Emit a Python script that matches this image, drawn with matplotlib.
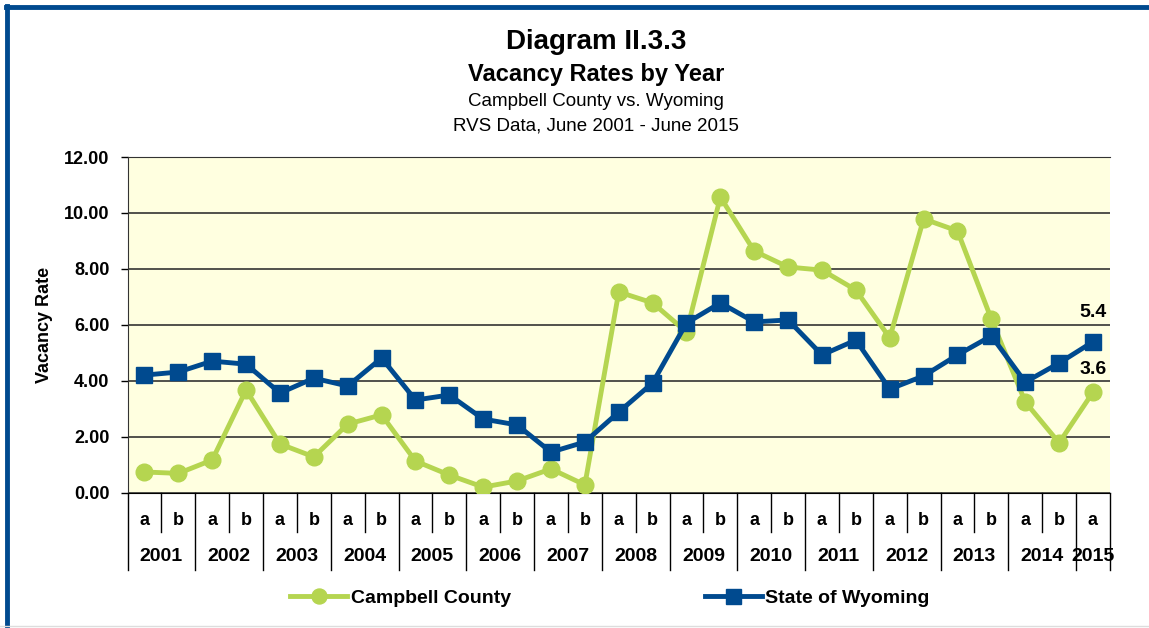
import matplotlib.pyplot as plt
from matplotlib.lines import Line2D
import matplotlib.transforms as mtransforms

years = ['2001', '2002', '2003', '2004', '2005', '2006', '2007',
         '2008', '2009', '2010', '2011', '2012', '2013', '2014', '2015']
halves = ['a', 'b'] * 14 + ['a']

campbell = [0.75, 0.70, 1.18, 3.68, 1.75, 1.29, 2.46, 2.79, 1.14, 0.64,
            0.21, 0.43, 0.86, 0.29, 7.18, 6.79, 5.75, 10.57, 8.64, 8.07,
            7.96, 7.25, 5.54, 9.79, 9.36, 6.21, 3.25, 1.79, 3.6]
wyoming = [4.21, 4.32, 4.71, 4.60, 3.57, 4.10, 3.82, 4.82, 3.32, 3.50,
           2.64, 2.43, 1.46, 1.82, 2.89, 3.93, 6.07, 6.79, 6.11, 6.18,
           4.93, 5.46, 3.71, 4.18, 4.93, 5.61, 3.96, 4.64, 5.4]

green = '#B5D550'
blue = '#004A8F'

plt.rcParams['font.family'] = ['Liberation Sans', 'DejaVu Sans']

fig = plt.figure(figsize=(11.49, 6.28), dpi=100)
ax = fig.add_axes([0.111, 0.215, 0.855, 0.535])
ax.set_facecolor('#FFFFE0')

x = list(range(len(halves)))
ax.plot(x, campbell, color=green, lw=3.5, marker='o', markersize=12, label='Campbell County', zorder=3)
ax.plot(x, wyoming, color=blue, lw=3.5, marker='s', markersize=12, label='State of Wyoming', zorder=4)

ax.set_xlim(-0.5, len(halves) - 0.5)
ax.set_ylim(0, 12)
ax.set_yticks(range(0, 13, 2))
ax.set_yticklabels([f'{v:.2f}' for v in range(0, 13, 2)], fontsize=13, fontweight='bold')
ax.yaxis.grid(True, color='#333333', lw=1.2)
ax.set_axisbelow(True)
ax.set_xticks([])
ax.tick_params(axis='y', length=5, width=1, pad=8)
ax.spines['right'].set_visible(False)
ax.spines['top'].set_color('#333333')
ax.spines['left'].set_color('#333333')
ax.spines['bottom'].set_color('black')
ax.set_ylabel('Vacancy Rate', fontsize=13, fontweight='bold', labelpad=8)

# end labels
ax.text(x[-1], wyoming[-1] + 0.75, f'{wyoming[-1]:.1f}', ha='center', va='bottom',
        fontsize=14, fontweight='bold')
ax.text(x[-1], campbell[-1] + 0.5, f'{campbell[-1]:.1f}', ha='center', va='bottom',
        fontsize=14, fontweight='bold')

# two-level category axis
trans = mtransforms.blended_transform_factory(ax.transData, ax.transAxes)
for i, h in enumerate(halves):
    ax.text(i, -0.083, h, transform=trans, ha='center', va='center',
            fontsize=13, fontweight='bold')
for i in range(len(halves) + 1):
    edge = i - 0.5
    low = -0.229 if (i % 2 == 0 or i == len(halves)) else -0.116
    ax.plot([edge, edge], [0, low], transform=trans, color='black', lw=1, clip_on=False)
for j, yr in enumerate(years):
    pos = 2 * j + 0.5 if yr != '2015' else 2 * j
    ax.text(pos, -0.19, yr, transform=trans, ha='center', va='center',
            fontsize=14, fontweight='bold')

# legend
fig.legend(loc='center', bbox_to_anchor=(0.531, 0.047), ncol=2, frameon=False,
           prop={'weight': 'bold', 'size': 14}, columnspacing=10,
           handlelength=2.9, handletextpad=0.2, markerscale=0.9)

# titles
fig.text(0.519, 0.933, 'Diagram II.3.3', ha='center', va='center', fontsize=20, fontweight='bold')
fig.text(0.519, 0.882, 'Vacancy Rates by Year', ha='center', va='center', fontsize=17, fontweight='bold')
fig.text(0.519, 0.839, 'Campbell County vs. Wyoming', ha='center', va='center', fontsize=13.5)
fig.text(0.519, 0.799, 'RVS Data, June 2001 - June 2015', ha='center', va='center', fontsize=13.5)

# outer frame
fig.add_artist(Line2D([0.0052, 1.0], [0.9885, 0.9885], color=blue, lw=3.5))
fig.add_artist(Line2D([0.0061, 0.0061], [0.0, 0.99], color=blue, lw=3.5))
fig.add_artist(Line2D([0.0, 1.0], [0.003, 0.003], color='#DDDDDD', lw=1))

fig.savefig('out.png', dpi=100)
